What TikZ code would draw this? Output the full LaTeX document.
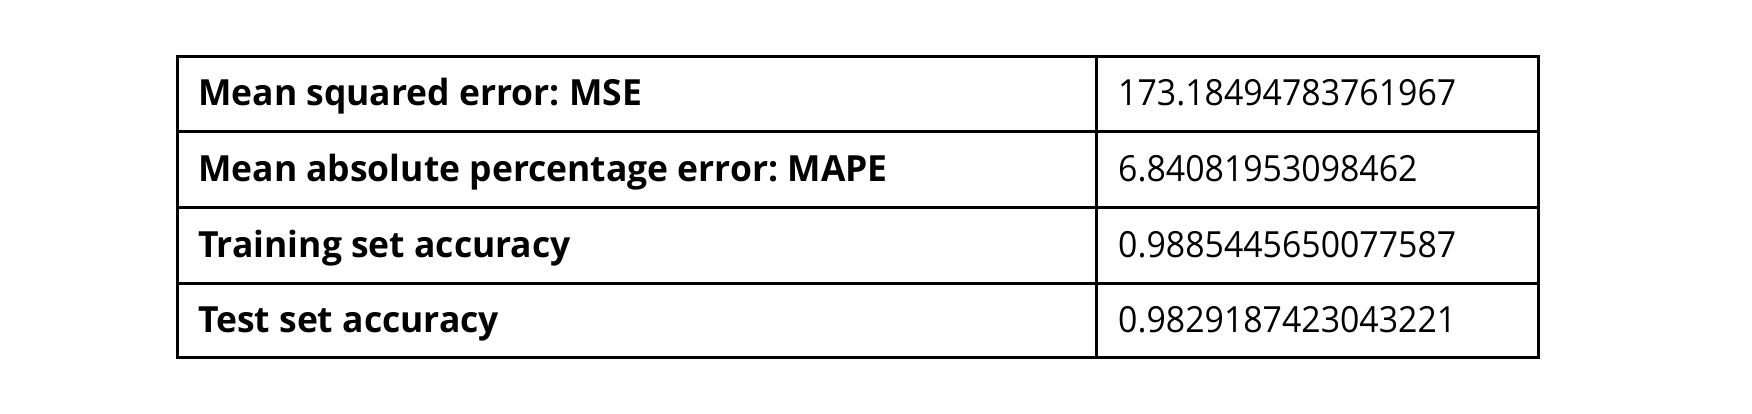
\documentclass[tikz,border=0pt]{standalone}
\usepackage{fontspec}
\setmainfont[FakeStretch=0.94]{Open Sans}
\newfontfamily\labfont[FakeStretch=0.985]{Open Sans}
\frenchspacing
\begin{document}
\begin{tikzpicture}[x=1pt,y=-1pt,
  grid/.style={line width=3pt,black},
  lab/.style={anchor=base west,inner sep=0pt,font=\fontsize{36}{42}\selectfont\labfont\bfseries},
  val/.style={anchor=base west,inner sep=0pt,font=\fontsize{36}{42}\selectfont}]
\useasboundingbox (0,0) rectangle (1752,414);
\coordinate (tl) at (177,57);
\coordinate (br) at (1538,357);
\draw[grid] (tl) rectangle (br);
\draw[grid] (1096,57) -- (1096,357);
\foreach \y in {132,207,283} \draw[grid] (177,\y) -- (1538,\y);
\node[lab] (l1) at (198,106) {Mean squared error: MSE};
\node[lab] (l2) at (198,182) {Mean absolute percentage error: MAPE};
\node[lab] (l3) at (198,257) {Training set accuracy};
\node[lab] (l4) at (198,332) {Test set accuracy};
\node[val] (v1) at (1118,106) {173.18494783761967};
\node[val] (v2) at (1118,182) {6.84081953098462};
\node[val] (v3) at (1118,257) {0.9885445650077587};
\node[val] (v4) at (1118,332) {0.9829187423043221};
\end{tikzpicture}
\end{document}
